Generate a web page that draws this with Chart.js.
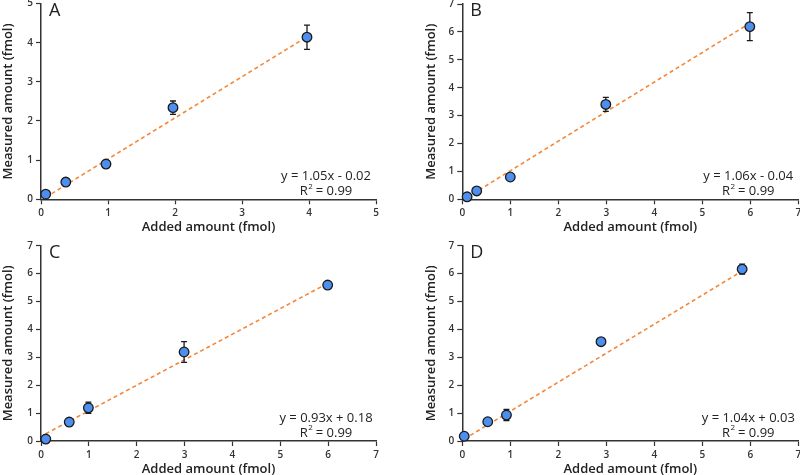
<!DOCTYPE html>
<html><head><meta charset="utf-8">
<script src="https://cdn.jsdelivr.net/npm/chart.js@4.4.0/dist/chart.umd.min.js"></script>
<style>
html,body{margin:0;padding:0;background:#fff;width:800px;height:475px;overflow:hidden;position:relative}
canvas{position:absolute}
</style></head><body>
<canvas id="cA" width="400" height="237" style="left:0;top:0;width:400px;height:237px"></canvas>
<canvas id="cB" width="400" height="237" style="left:400px;top:0;width:400px;height:237px"></canvas>
<canvas id="cC" width="400" height="240" style="left:0;top:237px;width:400px;height:240px"></canvas>
<canvas id="cD" width="400" height="240" style="left:400px;top:237px;width:400px;height:240px"></canvas>
<script>
// ---- data ----
const panelLetters = ['A', 'B', 'C', 'D'];
const xTitle = 'Added amount (fmol)';
const yTitle = 'Measured amount (fmol)';

const addedA = [0.07, 0.37, 0.97, 1.97, 3.97];
const measuredA = [0.13, 0.44, 0.90, 2.34, 4.14];
const errA = [0, 0, 0, 0.17, 0.31];
const fitXA = [0.07, 3.97];
const fitYA = [0.05, 4.15];
const eqA = 'y = 1.05x - 0.02';

const addedB = [0.10, 0.30, 1.00, 2.99, 5.99];
const measuredB = [0.09, 0.30, 0.80, 3.40, 6.19];
const errB = [0, 0, 0, 0.25, 0.50];
const fitXB = [0.10, 5.99];
const fitYB = [0.07, 6.31];
const eqB = 'y = 1.06x - 0.04';

const addedC = [0.10, 0.59, 0.99, 2.99, 5.99];
const measuredC = [0.07, 0.68, 1.19, 3.19, 5.59];
const errC = [0, 0, 0.20, 0.37, 0];
const fitXC = [0.10, 5.99];
const fitYC = [0.26, 5.65];
const eqC = 'y = 0.93x + 0.18';

const addedD = [0.04, 0.53, 0.92, 2.89, 5.83];
const measuredD = [0.17, 0.69, 0.93, 3.56, 6.16];
const errD = [0, 0, 0.20, 0, 0.18];
const fitXD = [0.04, 5.83];
const fitYD = [0.07, 6.09];
const eqD = 'y = 1.04x + 0.03';

const r2Values = ['0.99', '0.99', '0.99', '0.99'];
const xMaxes = [5, 7, 7, 7];
const yMaxes = [5, 7, 7, 7];

// ---- styling / layout ----
const FONT = "'Open Sans', 'Noto Sans', sans-serif";
const AXIS = '#333333';
const TXT = '#222222';

const panels = [
  {id: 'cA', added: addedA, meas: measuredA, err: errA, fx: fitXA, fy: fitYA, eq: eqA, w: 400, h: 237, area: {l: 41, r: 376, t: 3.5, b: 199.3}, padL: 0},
  {id: 'cB', added: addedB, meas: measuredB, err: errB, fx: fitXB, fy: fitYB, eq: eqB, w: 400, h: 237, area: {l: 62.3, r: 398.3, t: 4, b: 199.3}, padL: 23},
  {id: 'cC', added: addedC, meas: measuredC, err: errC, fx: fitXC, fy: fitYC, eq: eqC, w: 400, h: 240, area: {l: 41, r: 376, t: 8.7, b: 204}, padL: 0},
  {id: 'cD', added: addedD, meas: measuredD, err: errD, fx: fitXD, fy: fitYD, eq: eqD, w: 400, h: 240, area: {l: 62.3, r: 398.3, t: 8.7, b: 204}, padL: 23}
];

const errorBarPlugin = {
  id: 'errorBars',
  beforeDatasetDraw(chart, args, opts) {
    if (args.index !== 0) return;
    const errs = opts.errors || [];
    const ds = chart.data.datasets[0].data;
    const xs = chart.scales.x, ys = chart.scales.y;
    const ctx = chart.ctx;
    ctx.save();
    ctx.strokeStyle = '#1a1a1a';
    ctx.lineWidth = 1.3;
    ds.forEach((p, i) => {
      const e = errs[i];
      if (!e) return;
      const px = xs.getPixelForValue(p.x);
      const y1 = ys.getPixelForValue(p.y + e);
      const y2 = ys.getPixelForValue(p.y - e);
      ctx.beginPath();
      ctx.moveTo(px, y1); ctx.lineTo(px, y2);
      ctx.moveTo(px - 3, y1); ctx.lineTo(px + 3, y1);
      ctx.moveTo(px - 3, y2); ctx.lineTo(px + 3, y2);
      ctx.stroke();
    });
    ctx.restore();
  }
};

const labelPlugin = {
  id: 'panelLabels',
  afterDraw(chart, args, opts) {
    const ctx = chart.ctx;
    const a = chart.chartArea;
    const big = 'normal 400 13px ' + FONT;
    const sup = 'normal 400 8px ' + FONT;
    ctx.save();
    ctx.fillStyle = TXT;
    ctx.textBaseline = 'middle';
    ctx.textAlign = 'left';
    ctx.font = 'normal 400 18px ' + FONT;
    ctx.fillText(opts.letter, a.left + 8, a.top + 7);
    // equation
    ctx.font = big;
    ctx.textAlign = 'center';
    const cx = a.right - 50;
    ctx.fillText(opts.eq, cx, a.bottom - 23);
    // R^2 line
    const partR = 'R';
    const partS = '2';
    const partV = ' = ' + opts.r2;
    ctx.font = big;
    const wR = ctx.measureText(partR).width;
    const wV = ctx.measureText(partV).width;
    ctx.font = sup;
    const wS = ctx.measureText(partS).width;
    const x0 = cx - (wR + wS + wV) / 2;
    const yy = a.bottom - 8;
    ctx.textAlign = 'left';
    ctx.font = big;
    ctx.fillText(partR, x0, yy);
    ctx.font = sup;
    ctx.fillText(partS, x0 + wR + 0.5, yy - 5);
    ctx.font = big;
    ctx.fillText(partV, x0 + wR + wS, yy);
    ctx.restore();
  }
};

panels.forEach((p, k) => {
  const yAxisW = p.area.l - p.padL;
  const xAxisH = 36;
  const points = p.added.map((x, i) => ({x: x, y: p.meas[i]}));
  const fit = p.fx.map((x, i) => ({x: x, y: p.fy[i]}));
  const axisCommon = (max, title) => ({
    type: 'linear', min: 0, max: max,
    ticks: {stepSize: 1, color: AXIS, font: {family: FONT, size: 10, weight: '600'}, padding: 3, maxRotation: 0},
    grid: {display: true, drawOnChartArea: false, drawTicks: true, tickLength: 5, tickColor: AXIS, tickWidth: 1.2},
    border: {display: true, color: AXIS, width: 1.5},
    title: {display: true, text: title, color: TXT, font: {family: FONT, size: 13, weight: '600'}, padding: 0}
  });
  const xs = axisCommon(xMaxes[k], xTitle);
  xs.afterFit = (s) => { s.height = xAxisH; s.paddingLeft = 0; s.paddingRight = 0; };
  const ys = axisCommon(yMaxes[k], yTitle);
  ys.afterFit = (s) => { s.width = yAxisW; s.paddingTop = 0; s.paddingBottom = 0; };

  new Chart(document.getElementById(p.id), {
    type: 'scatter',
    data: {
      datasets: [
        {type: 'scatter', data: points, backgroundColor: '#4D8EEE', borderColor: '#1a1a1a', borderWidth: 1.3, pointRadius: 4.8, pointHoverRadius: 4.8, clip: false},
        {type: 'line', data: fit, borderColor: '#F4873A', borderWidth: 1.6, borderDash: [4, 3], pointRadius: 0, fill: false, tension: 0}
      ]
    },
    options: {
      responsive: false,
      animation: false,
      devicePixelRatio: 1,
      events: [],
      layout: {
        autoPadding: false,
        padding: {left: p.padL, top: p.area.t, right: p.w - p.area.r, bottom: p.h - p.area.b - xAxisH}
      },
      plugins: {
        legend: {display: false},
        tooltip: {enabled: false},
        errorBars: {errors: p.err},
        panelLabels: {letter: panelLetters[k], eq: p.eq, r2: r2Values[k]}
      },
      scales: {x: xs, y: ys}
    },
    plugins: [errorBarPlugin, labelPlugin]
  });
});
</script>
</body></html>
